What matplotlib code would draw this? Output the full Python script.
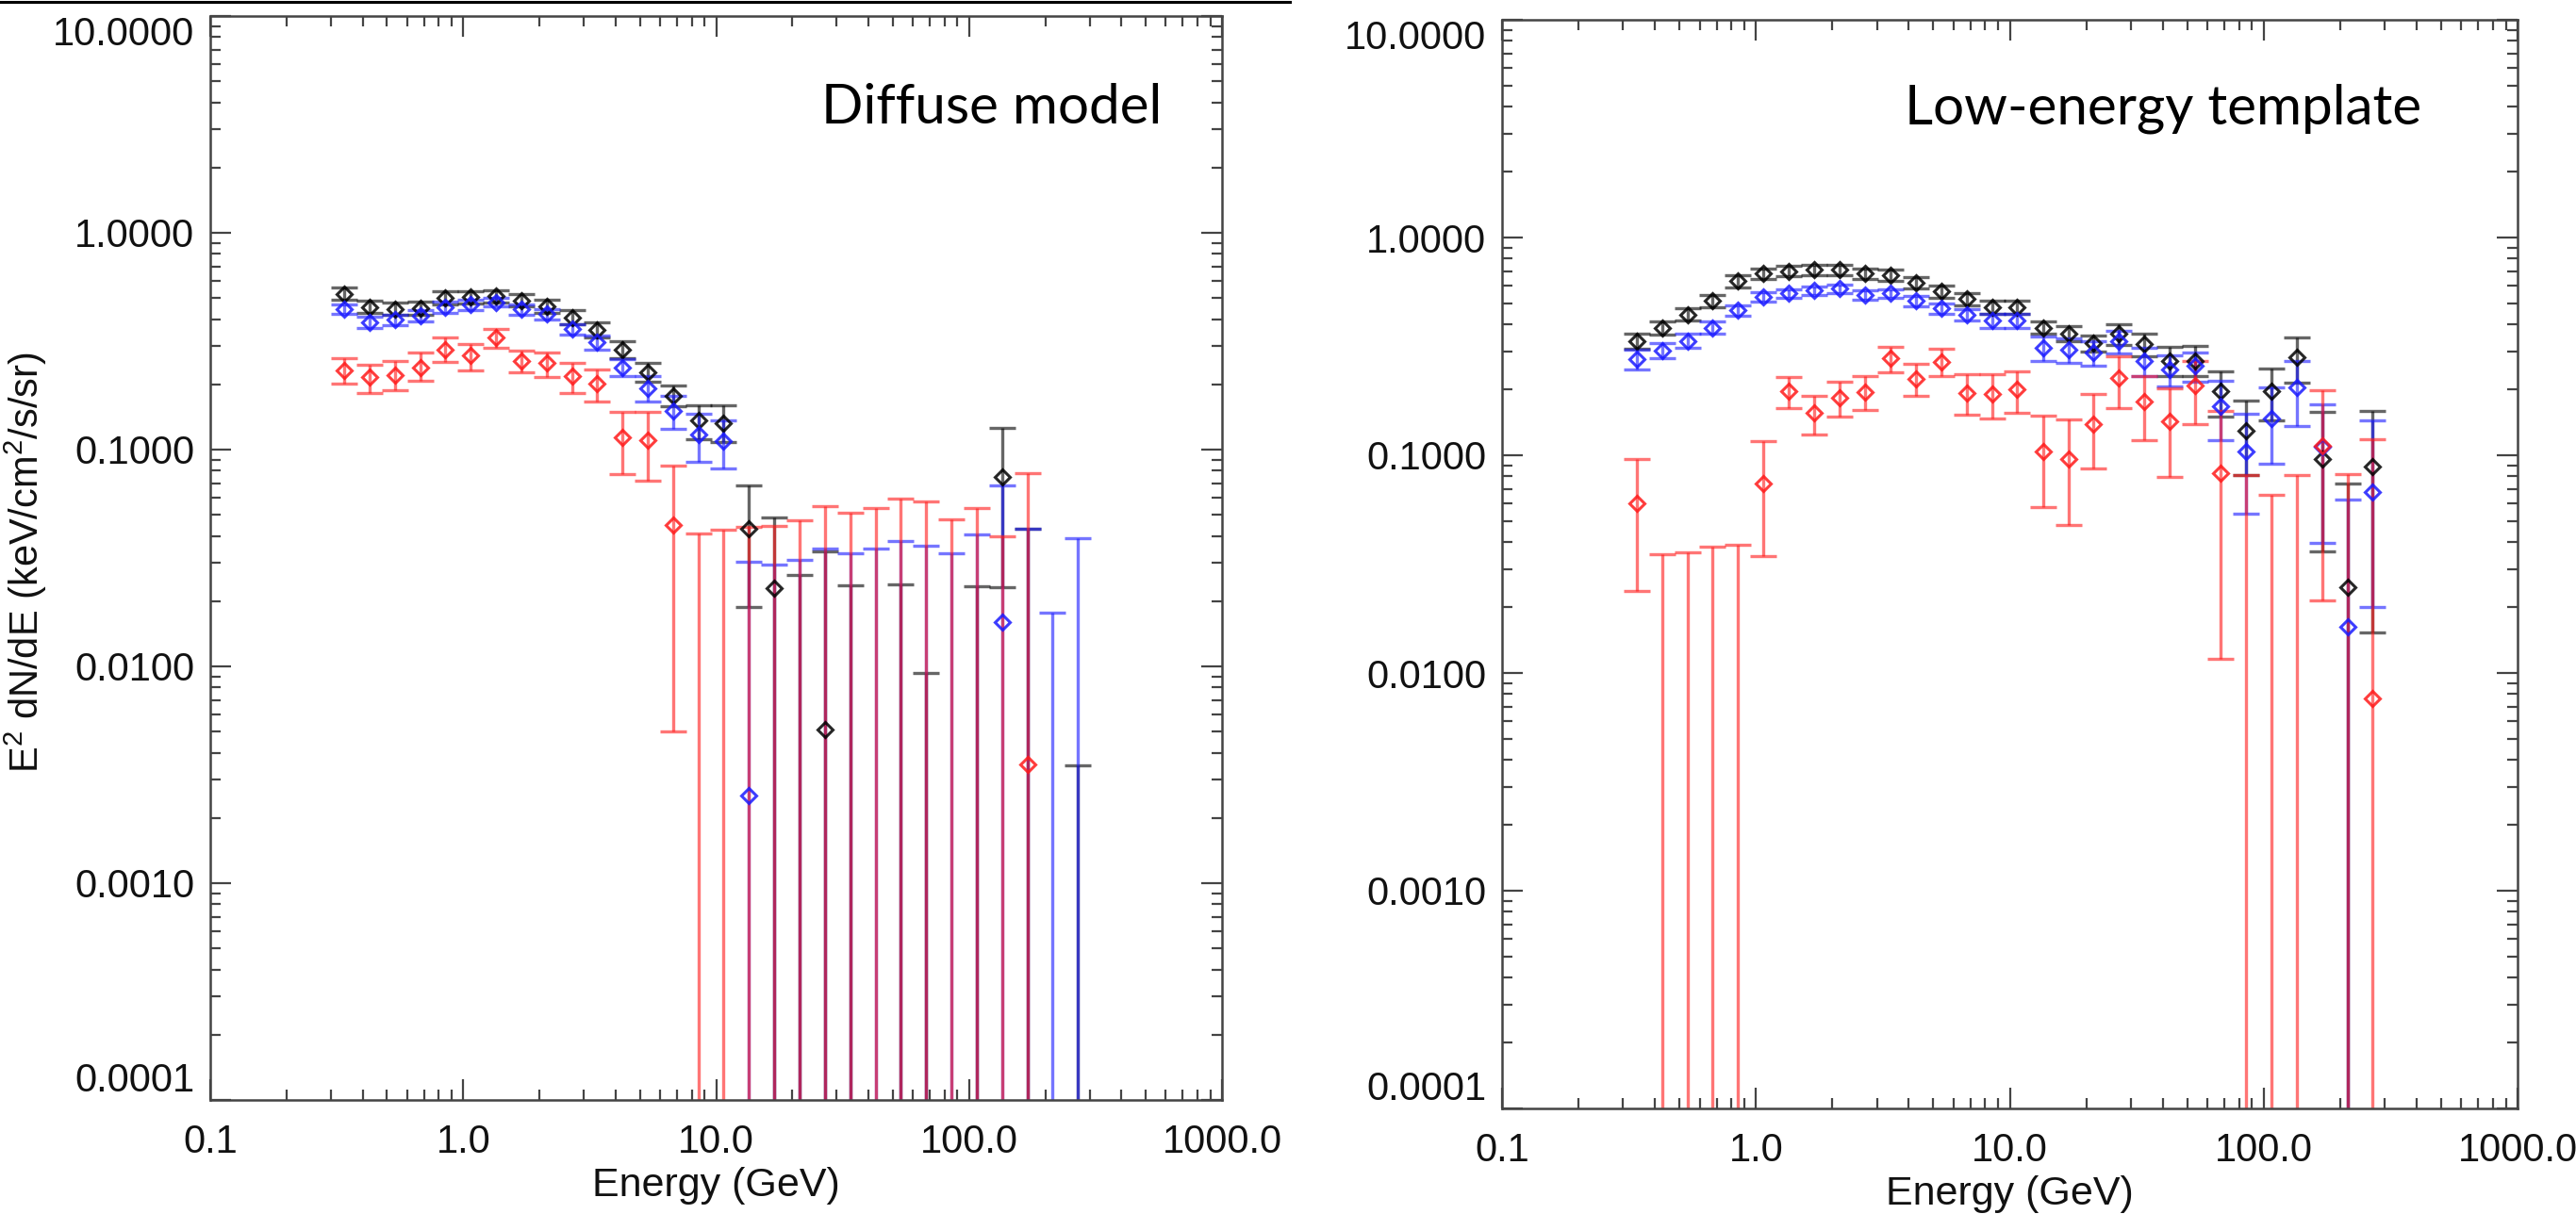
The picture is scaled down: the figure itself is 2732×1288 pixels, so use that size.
import numpy as np
import matplotlib
matplotlib.use("Agg")
import matplotlib.pyplot as plt
from matplotlib.lines import Line2D
from matplotlib.ticker import LogLocator, NullFormatter, FixedLocator, FixedFormatter

plt.rcParams['font.family'] = ['Liberation Sans', 'DejaVu Sans']
plt.rcParams['mathtext.default'] = 'regular'

nan = np.nan

# ---------------- data ----------------
energy = [0.339, 0.427, 0.537, 0.676, 0.851, 1.07, 1.35, 1.70, 2.14, 2.69,
          3.39, 4.27, 5.37, 6.76, 8.51, 10.7, 13.5, 17.0, 21.4, 26.9,
          33.9, 42.7, 53.7, 67.6, 85.1, 107.0, 135.0, 170.0, 214.0, 269.0]

x_ticks = [0.1, 1.0, 10.0, 100.0, 1000.0]
x_ticklabels = ['0.1', '1.0', '10.0', '100.0', '1000.0']
y_ticks = [1e-4, 1e-3, 1e-2, 1e-1, 1.0, 10.0]
y_ticklabels = ['0.0001', '0.0010', '0.0100', '0.1000', '1.0000', '10.0000']

titles = ['Diffuse model', 'Low-energy template']
xlabel = 'Energy (GeV)'
ylabel = r'E$^2$ dN/dE (keV/cm$^2$/s/sr)'

# lower bound 0 means the error bar reaches below the plotted range
# ---- left panel: Diffuse model ----
left_black_val = [0.524, 0.454, 0.446, 0.450, 0.500, 0.505, 0.510, 0.488, 0.458, 0.408,
                  0.356, 0.289, 0.227, 0.177, 0.136, 0.133, 0.0432, 0.0229, nan, 0.00512,
                  nan, nan, nan, nan, nan, nan, 0.0747, nan, nan, nan]
left_black_hi = [0.560, 0.485, 0.475, 0.480, 0.535, 0.540, 0.545, 0.520, 0.490, 0.440,
                 0.385, 0.315, 0.250, 0.198, 0.160, 0.160, 0.0686, 0.0484, 0.0264, 0.0340,
                 0.0237, nan, 0.0240, 0.0093, nan, 0.0234, 0.1265, 0.0432, nan, 0.00349]
left_black_lo = [0.490, 0.425, 0.418, 0.420, 0.467, 0.470, 0.477, 0.456, 0.428, 0.378,
                 0.330, 0.265, 0.205, 0.158, 0.112, 0.108, 0.0188, 0, 0, 0,
                 0, nan, 0, 0, nan, 0, 0.0232, 0, nan, 0]

left_blue_val = [0.443, 0.387, 0.397, 0.414, 0.454, 0.466, 0.478, 0.443, 0.421, 0.359,
                 0.312, 0.240, 0.192, 0.151, 0.117, 0.109, 0.00254, nan, nan, nan,
                 nan, nan, nan, nan, nan, nan, 0.0160, nan, nan, nan]
left_blue_hi = [0.465, 0.410, 0.420, 0.438, 0.480, 0.490, 0.500, 0.468, 0.445, 0.380,
                0.335, 0.262, 0.218, 0.177, 0.146, 0.136, 0.0303, 0.0295, 0.0311, 0.0348,
                0.0332, 0.0349, 0.0377, 0.0361, 0.0332, 0.0407, 0.0686, 0.0430, 0.0177, 0.0391]
left_blue_lo = [0.421, 0.364, 0.374, 0.390, 0.428, 0.442, 0.456, 0.418, 0.397, 0.338,
                0.289, 0.218, 0.166, 0.125, 0.0877, 0.082, 0, 0, 0, 0,
                0, 0, 0, 0, 0, 0, 0, 0, 0, 0]

left_red_val = [0.233, 0.216, 0.220, 0.240, 0.290, 0.273, 0.328, 0.257, 0.251, 0.218,
                0.202, 0.114, 0.111, 0.0448, nan, nan, nan, nan, nan, nan,
                nan, nan, nan, nan, nan, nan, nan, 0.00354, nan, nan]
left_red_hi = [0.264, 0.246, 0.256, 0.281, 0.328, 0.307, 0.359, 0.287, 0.281, 0.251,
               0.235, 0.149, 0.149, 0.0843, 0.0411, 0.0427, 0.0440, 0.0443, 0.0472, 0.0550,
               0.0509, 0.0536, 0.0593, 0.0579, 0.0479, 0.0538, 0.0400, 0.0778, nan, nan]
left_red_lo = [0.201, 0.183, 0.187, 0.207, 0.254, 0.233, 0.296, 0.227, 0.216, 0.183,
               0.167, 0.0773, 0.0719, 0.0050, 0, 0, 0, 0, 0, 0,
               0, 0, 0, 0, 0, 0, 0, 0, nan, nan]

# ---- right panel: Low-energy template ----
right_black_val = [0.334, 0.385, 0.443, 0.512, 0.630, 0.683, 0.701, 0.713, 0.710, 0.683,
                   0.673, 0.618, 0.565, 0.523, 0.478, 0.478, 0.385, 0.361, 0.327, 0.360,
                   0.323, 0.272, 0.272, 0.197, 0.129, 0.197, 0.281, 0.0957, 0.0247, 0.0883]
right_black_hi = [0.360, 0.412, 0.472, 0.545, 0.668, 0.722, 0.740, 0.752, 0.750, 0.722,
                  0.712, 0.655, 0.600, 0.558, 0.512, 0.512, 0.410, 0.390, 0.355, 0.400,
                  0.363, 0.315, 0.318, 0.244, 0.178, 0.250, 0.349, 0.158, 0.0738, 0.160]
right_black_lo = [0.308, 0.358, 0.414, 0.479, 0.592, 0.644, 0.662, 0.674, 0.670, 0.644,
                  0.634, 0.581, 0.530, 0.488, 0.444, 0.444, 0.360, 0.335, 0.300, 0.320,
                  0.285, 0.230, 0.230, 0.150, 0.0812, 0.145, 0.215, 0.036, 0, 0.0154]

right_blue_val = [0.276, 0.303, 0.335, 0.385, 0.463, 0.534, 0.555, 0.570, 0.582, 0.546,
                  0.555, 0.511, 0.473, 0.443, 0.415, 0.415, 0.311, 0.305, 0.296, 0.333,
                  0.272, 0.248, 0.257, 0.168, 0.104, 0.147, 0.204, 0.109, 0.0163, 0.0676]
right_blue_hi = [0.304, 0.328, 0.360, 0.410, 0.490, 0.560, 0.580, 0.595, 0.607, 0.572,
                 0.580, 0.538, 0.500, 0.470, 0.445, 0.445, 0.350, 0.345, 0.335, 0.373,
                 0.312, 0.288, 0.297, 0.219, 0.155, 0.204, 0.272, 0.171, 0.0627, 0.144]
right_blue_lo = [0.248, 0.278, 0.310, 0.360, 0.436, 0.508, 0.530, 0.545, 0.557, 0.520,
                 0.530, 0.484, 0.446, 0.416, 0.385, 0.385, 0.272, 0.265, 0.257, 0.293,
                 0.232, 0.208, 0.217, 0.117, 0.0538, 0.091, 0.136, 0.0396, 0, 0.020]

right_red_val = [0.0600, nan, nan, nan, nan, 0.0744, 0.197, 0.156, 0.184, 0.195,
                 0.278, 0.225, 0.269, 0.193, 0.192, 0.200, 0.104, 0.0961, 0.139, 0.226,
                 0.176, 0.143, 0.209, 0.0828, nan, nan, nan, 0.110, nan, 0.00767]
right_red_hi = [0.0961, 0.0350, 0.0358, 0.0380, 0.0389, 0.1165, 0.228, 0.187, 0.218, 0.230,
                0.316, 0.263, 0.308, 0.236, 0.236, 0.244, 0.152, 0.146, 0.191, 0.286,
                0.232, 0.203, 0.270, 0.160, 0.0812, 0.0658, 0.0812, 0.199, 0.0818, 0.119]
right_red_lo = [0.0238, 0, 0, 0, 0, 0.0343, 0.165, 0.125, 0.151, 0.161,
                0.240, 0.187, 0.230, 0.153, 0.147, 0.156, 0.0576, 0.0478, 0.0869, 0.164,
                0.117, 0.0797, 0.139, 0.0116, 0, 0, 0, 0.0215, 0, 0]

colors = {'black': '#000000', 'blue': '#1a1aff', 'red': '#ff1a1a'}

# ---------------- figure ----------------
W, H = 2732, 1288
fig = plt.figure(figsize=(W / 100, H / 100), dpi=100)
fig.patch.set_facecolor('white')

def px_axes(x0, x1, y0, y1):
    return fig.add_axes([x0 / W, 1 - y1 / H, (x1 - x0) / W, (y1 - y0) / H])

ax_l = px_axes(223, 1296, 17, 1167)
ax_r = px_axes(1593, 2670, 21, 1176)

def draw_series(ax, val, lo, hi, color):
    E = np.array(energy, dtype=float)
    v = np.array(val, dtype=float)
    lo = np.array(lo, dtype=float)
    hi = np.array(hi, dtype=float)
    lo = np.where(lo <= 0, 1e-9, lo)
    m = ~np.isnan(hi)
    ax.errorbar(E[m], hi[m], yerr=[hi[m] - lo[m], np.zeros(m.sum())], fmt='none',
                ecolor=color, elinewidth=2.4, capsize=10, capthick=2.4, alpha=0.6, zorder=2)
    ax.plot(E, v, ls='none', marker='D', ms=8.5, mfc='none', mec=color, mew=2.2,
            alpha=0.85, zorder=3)

def style_axes(ax):
    ax.set_xscale('log')
    ax.set_yscale('log')
    ax.set_xlim(x_ticks[0], x_ticks[-1])
    ax.set_ylim(y_ticks[0], y_ticks[-1])
    ax.xaxis.set_major_locator(FixedLocator(x_ticks))
    ax.xaxis.set_major_formatter(FixedFormatter(x_ticklabels))
    ax.yaxis.set_major_locator(FixedLocator(y_ticks))
    ax.yaxis.set_major_formatter(FixedFormatter(y_ticklabels))
    ax.xaxis.set_minor_locator(LogLocator(base=10, subs=range(2, 10), numticks=20))
    ax.yaxis.set_minor_locator(LogLocator(base=10, subs=range(2, 10), numticks=20))
    ax.xaxis.set_minor_formatter(NullFormatter())
    ax.yaxis.set_minor_formatter(NullFormatter())
    ax.tick_params(which='both', direction='in', top=True, right=True,
                   color='#444444', width=1.6)
    ax.tick_params(which='major', length=16, labelsize=30, labelcolor='#111111')
    ax.tick_params(which='minor', length=8)
    ax.tick_params(axis='x', which='major', pad=18)
    ax.tick_params(axis='y', which='major', pad=12)
    for s in ax.spines.values():
        s.set_color('#444444')
        s.set_linewidth(1.8)
    ylabs = ax.get_yticklabels()
    ylabs[-1].set_va('top')
    ylabs[0].set_va('bottom')
    ax.set_xlabel(xlabel, fontsize=31, labelpad=4, color='#111111')

draw_series(ax_l, left_black_val, left_black_lo, left_black_hi, colors['black'])
draw_series(ax_l, left_blue_val, left_blue_lo, left_blue_hi, colors['blue'])
draw_series(ax_l, left_red_val, left_red_lo, left_red_hi, colors['red'])

draw_series(ax_r, right_black_val, right_black_lo, right_black_hi, colors['black'])
draw_series(ax_r, right_blue_val, right_blue_lo, right_blue_hi, colors['blue'])
draw_series(ax_r, right_red_val, right_red_lo, right_red_hi, colors['red'])

style_axes(ax_l)
style_axes(ax_r)

fig.text(3 / W, 1 - 597 / H, ylabel, rotation=90, ha='left', va='center',
         fontsize=30, color='#111111')

fig.text(871 / W, 1 - 131 / H, titles[0], ha='left', va='baseline',
         fontsize=42, family=['Lato', 'DejaVu Sans'], color='black')
fig.text(2020 / W, 1 - 131 / H, titles[1], ha='left', va='baseline',
         fontsize=42, family=['Lato', 'DejaVu Sans'], color='black')

fig.add_artist(Line2D([0, 1368 / W], [1 - 1.5 / H, 1 - 1.5 / H], color='black', lw=2.2,
                      transform=fig.transFigure))

fig.savefig('out.png', dpi=100, facecolor='white')
